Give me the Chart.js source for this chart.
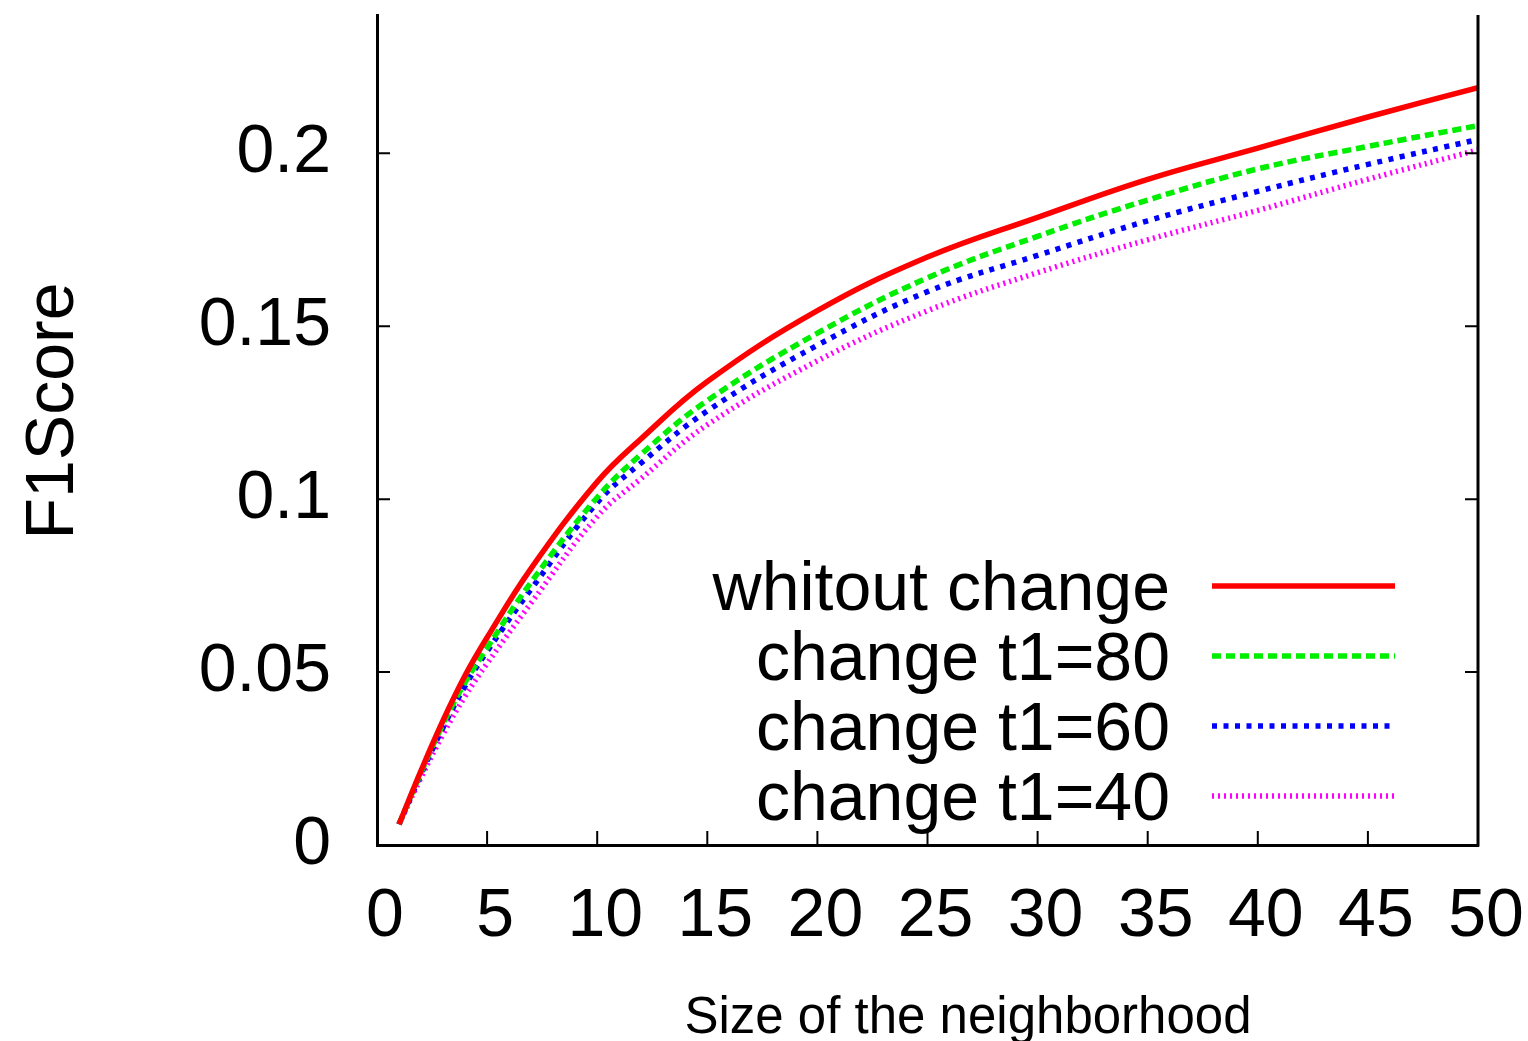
<!DOCTYPE html>
<html>
<head>
<meta charset="utf-8">
<script src="https://cdn.jsdelivr.net/npm/chart.js@4"></script>
<style>
  body { margin: 0; background: #fff; }
  #wrap { width: 1528px; height: 1041px; }
</style>
</head>
<body>
<div id="wrap"><canvas id="lineChart"></canvas></div>
<script>
var sizes = [1, 2, 3, 4, 5, 7, 10, 12, 15, 20, 25, 30, 35, 40, 45, 50];
var withoutChange = [0.006, 0.0215, 0.036, 0.049, 0.060, 0.080, 0.105, 0.1175, 0.134, 0.1545, 0.170, 0.1815, 0.1925, 0.2015, 0.2105, 0.219];
var changeT80 = [0.006, 0.021, 0.035, 0.047, 0.057, 0.076, 0.1005, 0.113, 0.1285, 0.148, 0.164, 0.176, 0.1865, 0.1955, 0.202, 0.208];
var changeT60 = [0.006, 0.0205, 0.034, 0.046, 0.056, 0.074, 0.099, 0.1105, 0.1255, 0.1445, 0.160, 0.1705, 0.1805, 0.189, 0.1968, 0.204];
var changeT40 = [0.006, 0.0195, 0.032, 0.043, 0.0525, 0.070, 0.095, 0.106, 0.1215, 0.140, 0.1545, 0.1655, 0.175, 0.1835, 0.1925, 0.201];
var seriesNames = ['whitout change', 'change t1=80', 'change t1=60', 'change t1=40'];
var xTicks = [0, 5, 10, 15, 20, 25, 30, 35, 40, 45, 50];
var yTicks = [0, 0.05, 0.1, 0.15, 0.2];

var FONT = '"Liberation Sans", Arial, sans-serif';

function pts(ys) {
    return sizes.map(function (x, i) { return { x: x, y: ys[i] }; });
}

var styles = [
    { color: '#ff0000', dash: [] },
    { color: '#00ee00', dash: [9, 5] },
    { color: '#0000ff', dash: [5, 6.5] },
    { color: '#ff00ff', dash: [2, 4] }
];
var allSeries = [withoutChange, changeT80, changeT60, changeT40];

var datasets = allSeries.map(function (ys, i) {
    return {
        label: seriesNames[i],
        data: pts(ys),
        borderColor: styles[i].color,
        borderDash: styles[i].dash,
        borderWidth: 5.5,
        pointRadius: 0,
        tension: 0.4,
        fill: false
    };
});

function noPad(s) {
    s.paddingLeft = 0; s.paddingRight = 0;
    s.paddingTop = 0; s.paddingBottom = 0;
}

var extras = {
    id: 'extras',
    afterDraw: function (chart) {
        var c = chart.ctx, a = chart.chartArea;
        var xs = chart.scales.x, ys = chart.scales.y;
        c.save();
        // right border
        c.strokeStyle = '#000';
        c.lineWidth = 3;
        c.beginPath();
        c.moveTo(a.right, a.top);
        c.lineTo(a.right, a.bottom + 1.5);
        c.stroke();
        // inward ticks
        c.lineWidth = 2;
        c.beginPath();
        yTicks.forEach(function (v) {
            var py = ys.getPixelForValue(v);
            if (v === 0) return;
            c.moveTo(a.left, py); c.lineTo(a.left + 13, py);
            c.moveTo(a.right, py); c.lineTo(a.right - 13, py);
        });
        xTicks.forEach(function (v) {
            var px = xs.getPixelForValue(v);
            if (v === 0 || v === 50) return;
            c.moveTo(px, a.bottom); c.lineTo(px, a.bottom - 14);
        });
        c.stroke();
        // legend
        c.font = '68px ' + FONT;
        c.fillStyle = '#000';
        c.textAlign = 'right';
        c.textBaseline = 'alphabetic';
        chart.data.datasets.forEach(function (ds, i) {
            var ly = 586 + i * 70;
            c.fillText(ds.label, 1170, ly + 24);
            c.strokeStyle = ds.borderColor;
            c.lineWidth = ds.borderWidth;
            c.setLineDash(ds.borderDash);
            c.beginPath();
            c.moveTo(1212, ly);
            c.lineTo(1395, ly);
            c.stroke();
            c.setLineDash([]);
        });
        // axis titles
        c.textAlign = 'center';
        c.font = '51px ' + FONT;
        c.fillText('Size of the neighborhood', 968, 1033);
        c.font = '68px ' + FONT;
        c.translate(73, 411);
        c.rotate(-Math.PI / 2);
        c.fillText('F1Score', 0, 0);
        c.restore();
    }
};

var ctx = document.getElementById('lineChart').getContext('2d');
var lineChart = new Chart(ctx, {
    type: 'line',
    data: { datasets: datasets },
    options: {
        responsive: true,
        maintainAspectRatio: false,
        animation: false,
        layout: { padding: { left: 0, right: 50, top: 15, bottom: 0 } },
        scales: {
            x: {
                type: 'linear',
                min: 0,
                max: 50,
                afterFit: function (s) { s.height = 196; noPad(s); },
                afterBuildTicks: function (s) { s.ticks = xTicks.map(function (v) { return { value: v }; }); },
                grid: { display: false },
                border: { display: true, color: '#000', width: 3 },
                ticks: {
                    padding: 23,
                    labelOffset: 8,
                    maxRotation: 0,
                    autoSkip: false,
                    color: '#000',
                    font: { family: FONT, size: 68 }
                }
            },
            y: {
                min: 0,
                max: 0.24,
                afterFit: function (s) { s.width = 377; noPad(s); },
                afterBuildTicks: function (s) { s.ticks = yTicks.map(function (v) { return { value: v }; }); },
                grid: { display: false },
                border: { display: true, color: '#000', width: 3 },
                ticks: {
                    padding: 38,
                    color: '#000',
                    font: { family: FONT, size: 68 },
                    callback: function (v) { return String(+v.toFixed(2)); }
                }
            }
        },
        plugins: {
            legend: { display: false },
            tooltip: { enabled: false }
        }
    },
    plugins: [extras]
});
</script>
</body>
</html>
